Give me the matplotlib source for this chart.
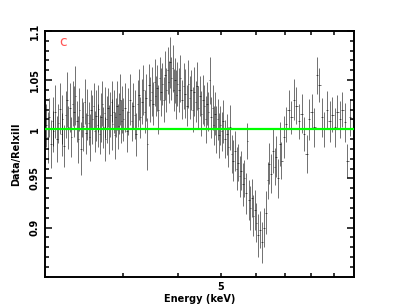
import numpy as np
import matplotlib.pyplot as plt
from matplotlib.ticker import FixedLocator, NullFormatter, FixedFormatter, MultipleLocator

# ratio data / model
energy_a = [2.01, 2.03, 2.04, 2.06, 2.08, 2.09, 2.11, 2.13, 2.14, 2.16,
            2.18, 2.19, 2.21, 2.23, 2.24, 2.26, 2.28, 2.29, 2.31, 2.33,
            2.34, 2.36, 2.38, 2.39, 2.41, 2.43, 2.44, 2.46, 2.48, 2.49,
            2.51, 2.53, 2.54, 2.56, 2.58, 2.59, 2.61, 2.63, 2.64, 2.66,
            2.68, 2.69, 2.71, 2.73, 2.74, 2.76, 2.78, 2.79, 2.81, 2.83,
            2.84, 2.86, 2.88, 2.89, 2.91, 2.93, 2.94, 2.96, 2.98, 2.99]
ratio_a = [1.004, 0.992, 1.012, 0.985, 1.008, 0.998, 1.018, 0.990, 1.006, 1.021,
           0.995, 1.010, 0.983, 1.015, 1.030, 1.002, 1.022, 0.992, 1.026, 1.018,
           1.034, 1.008, 0.990, 1.020, 0.980, 1.012, 1.003, 1.028, 0.996, 1.015,
           1.006, 0.992, 1.020, 1.010, 1.024, 0.998, 1.014, 1.004, 1.021, 0.995,
           1.012, 1.026, 1.002, 1.017, 0.990, 1.010, 1.022, 1.000, 1.015, 1.028,
           1.005, 1.018, 0.994, 1.012, 1.024, 1.003, 1.016, 1.030, 1.008, 1.020]
err_a = [0.022, 0.026, 0.020, 0.024, 0.025, 0.021, 0.027, 0.023, 0.020, 0.026,
         0.022, 0.025, 0.021, 0.024, 0.028, 0.022, 0.025, 0.020, 0.023, 0.026,
         0.030, 0.021, 0.024, 0.022, 0.027, 0.020, 0.025, 0.023, 0.021, 0.026,
         0.022, 0.024, 0.020, 0.025, 0.023, 0.021, 0.026, 0.022, 0.024, 0.020,
         0.025, 0.023, 0.021, 0.026, 0.022, 0.024, 0.020, 0.025, 0.023, 0.021,
         0.026, 0.022, 0.024, 0.020, 0.025, 0.023, 0.021, 0.026, 0.022, 0.024]

energy_b = [3.01, 3.04, 3.06, 3.09, 3.11, 3.14, 3.16, 3.19, 3.21, 3.24,
            3.26, 3.29, 3.31, 3.34, 3.36, 3.39, 3.41, 3.44, 3.46, 3.49,
            3.51, 3.54, 3.56, 3.59, 3.61, 3.64, 3.66, 3.69, 3.71, 3.74,
            3.76, 3.79, 3.81, 3.84, 3.86, 3.89, 3.91, 3.94, 3.96, 3.99]
ratio_b = [1.010, 1.022, 0.998, 1.018, 1.030, 1.008, 1.024, 1.015, 0.995, 1.026,
           1.035, 1.012, 1.028, 1.040, 1.018, 1.032, 0.985, 1.045, 1.030, 1.038,
           1.026, 1.048, 1.034, 1.042, 1.020, 1.052, 1.038, 1.046, 1.030, 1.055,
           1.040, 1.060, 1.048, 1.068, 1.052, 1.062, 1.040, 1.050, 1.035, 1.046]
err_b = [0.022, 0.025, 0.021, 0.024, 0.026, 0.020, 0.023, 0.025, 0.022, 0.024,
         0.026, 0.021, 0.023, 0.025, 0.022, 0.024, 0.026, 0.021, 0.023, 0.025,
         0.022, 0.024, 0.020, 0.023, 0.025, 0.022, 0.024, 0.021, 0.023, 0.025,
         0.022, 0.024, 0.021, 0.026, 0.022, 0.024, 0.021, 0.023, 0.025, 0.022]

energy_c = [4.02, 4.05, 4.09, 4.12, 4.15, 4.19, 4.22, 4.25, 4.29, 4.32,
            4.35, 4.39, 4.42, 4.45, 4.49, 4.52, 4.55, 4.59, 4.62, 4.65,
            4.69, 4.72, 4.75, 4.79, 4.82, 4.85, 4.89, 4.92, 4.95, 4.99]
ratio_c = [1.040, 1.052, 1.030, 1.044, 1.036, 1.024, 1.046, 1.032, 1.040, 1.020,
           1.038, 1.028, 1.044, 1.022, 1.034, 1.016, 1.030, 1.024, 1.010, 1.026,
           1.018, 1.050, 1.012, 1.022, 1.004, 1.016, 1.000, 1.010, 0.994, 1.004]
err_c = [0.022, 0.024, 0.020, 0.023, 0.025, 0.021, 0.024, 0.022, 0.020, 0.023,
         0.025, 0.021, 0.024, 0.022, 0.020, 0.023, 0.025, 0.021, 0.024, 0.022,
         0.020, 0.024, 0.021, 0.023, 0.020, 0.022, 0.024, 0.021, 0.023, 0.020]

energy_d = [5.02, 5.07, 5.11, 5.16, 5.20, 5.25, 5.29, 5.34, 5.38, 5.43, 5.47,
            5.52, 5.56, 5.61, 5.65, 5.70, 5.74, 5.79, 5.83, 5.88, 5.92, 5.97]
ratio_d = [0.998, 1.008, 0.990, 0.995, 0.982, 1.002, 0.975, 0.968, 0.978, 0.960, 0.966,
           0.952, 0.958, 0.944, 0.950, 0.935, 0.988, 0.928, 0.920, 0.930, 0.912, 0.918]
err_d = [0.020, 0.022, 0.019, 0.021, 0.020, 0.023, 0.019, 0.021, 0.020, 0.022, 0.019,
         0.021, 0.020, 0.022, 0.019, 0.021, 0.018, 0.020, 0.022, 0.019, 0.021, 0.020]

energy_e = [6.02, 6.08, 6.14, 6.20, 6.26, 6.32, 6.38, 6.44,
            6.50, 6.56, 6.62, 6.68, 6.74, 6.80, 6.86, 6.94]
ratio_e = [0.905, 0.892, 0.898, 0.885, 0.900, 0.915, 0.948, 0.965,
           0.955, 0.978, 0.962, 0.972, 0.950, 0.985, 0.968, 0.992]
err_e = [0.020, 0.022, 0.019, 0.021, 0.020, 0.022, 0.019, 0.021,
         0.020, 0.022, 0.019, 0.021, 0.020, 0.022, 0.019, 0.021]

energy_f = [7.02, 7.12, 7.22, 7.32, 7.42, 7.52, 7.62, 7.72, 7.82, 7.92,
            8.03, 8.14, 8.25, 8.36, 8.47, 8.58, 8.70, 8.82, 8.94, 9.06,
            9.18, 9.30, 9.42, 9.55, 9.68, 9.82, 9.95]
ratio_f = [1.005, 1.020, 1.012, 1.030, 1.024, 1.008, 1.016, 0.995, 0.975, 1.010,
           1.018, 1.002, 1.055, 1.045, 1.012, 1.000, 1.020, 1.008, 1.015, 1.002,
           1.018, 1.010, 1.020, 1.007, 0.968, 1.012, 1.010]
err_f = [0.018, 0.020, 0.017, 0.021, 0.019, 0.018, 0.020, 0.017, 0.019, 0.021,
         0.018, 0.020, 0.019, 0.017, 0.020, 0.018, 0.019, 0.021, 0.018, 0.020,
         0.017, 0.019, 0.018, 0.020, 0.017, 0.019, 0.018]

energy = np.array(energy_a + energy_b + energy_c + energy_d + energy_e + energy_f)
ratio = np.array(ratio_a + ratio_b + ratio_c + ratio_d + ratio_e + ratio_f)
err = np.array(err_a + err_b + err_c + err_d + err_e + err_f)

# half bin widths from neighbour spacing
edges = np.concatenate(([2.0], (energy[1:] + energy[:-1]) / 2, [10.0]))
xerr = np.vstack((energy - edges[:-1], edges[1:] - energy))

fig = plt.figure(figsize=(3.99, 3.08), dpi=100)
ax = fig.add_axes([0.1128, 0.1016, 0.7737, 0.7978])

ax.errorbar(energy, ratio, yerr=err, xerr=xerr, fmt='none',
            ecolor='black', elinewidth=0.6, alpha=0.65, capsize=0)
ax.axhline(1.0, color='#00ff00', lw=1.6, zorder=5)

ax.set_xscale('log')
ax.set_xlim(2, 10)
ax.set_ylim(0.85, 1.1)

ax.xaxis.set_major_locator(FixedLocator([5]))
ax.xaxis.set_major_formatter(FixedFormatter(['5']))
ax.xaxis.set_minor_locator(FixedLocator([3, 4, 6, 7, 8, 9]))
ax.xaxis.set_minor_formatter(NullFormatter())
ax.yaxis.set_major_locator(FixedLocator([0.9, 0.95, 1.0, 1.05, 1.1]))
ax.set_yticklabels(['0.9', '0.95', '1', '1.05', '1.1'])
ax.yaxis.set_minor_locator(MultipleLocator(0.01))

ax.tick_params(axis='both', which='both', direction='in', top=True, right=True, width=1.1)
ax.tick_params(axis='x', which='both', length=3)
ax.tick_params(axis='y', which='major', length=5)
ax.tick_params(axis='y', which='minor', length=2.8)
ax.tick_params(axis='both', labelsize=7, pad=4)
for lab in ax.get_yticklabels():
    lab.set_rotation(90)
    lab.set_va('center')
    lab.set_fontweight('bold')
for lab in ax.get_xticklabels():
    lab.set_fontweight('bold')
for s in ax.spines.values():
    s.set_linewidth(1.4)

ax.set_xlabel('Energy (keV)', fontsize=7, fontweight='bold', labelpad=1)
ax.set_ylabel('Data/Relxill', fontsize=7, fontweight='bold', labelpad=6)
ax.text(0.058, 0.955, 'c', transform=ax.transAxes, color='#ff5555',
        fontsize=10, ha='center', va='center')

fig.savefig('out.png', dpi=100)
